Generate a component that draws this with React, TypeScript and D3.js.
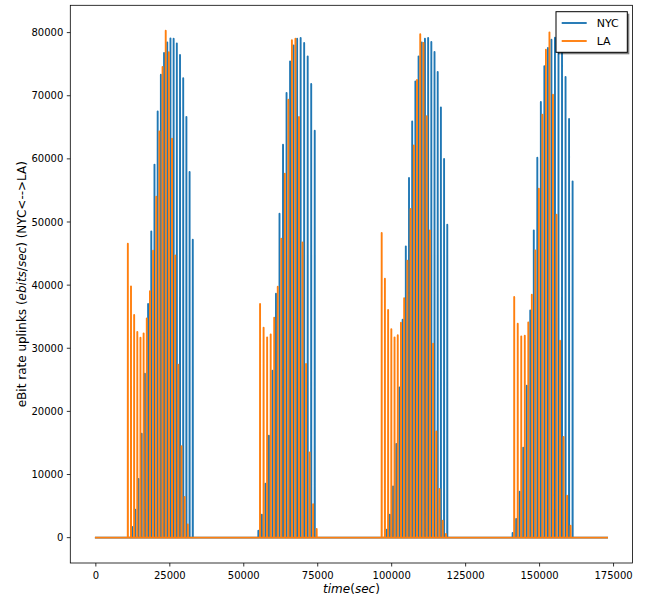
import React from 'react';
import * as d3 from 'd3';

// ---------- data ----------
const seriesNames = ['NYC', 'LA'];
const seriesColors = ['#1f77b4', '#ff7f0e'];
const xTicks = [0, 25000, 50000, 75000, 100000, 125000, 150000, 175000];
const yTicks = [0, 10000, 20000, 30000, 40000, 50000, 60000, 70000, 80000];
const timeEnd = 172800;

// NYC bursts: start time (s), sample spacing (s), spike values
const nycStarts = [12264, 54933, 98311, 140879];
const nycSteps = [1079, 1191, 1078, 1193];
const nycValues = [
  [1690, 4430, 9300, 16470, 25980, 37020, 48520, 59090, 67530, 73340, 76780, 78460, 79090, 79040, 78300, 76460, 72760, 66640, 57930, 47200],
  [1110, 3640, 8550, 16160, 26450, 38650, 51320, 62250, 70440, 75450, 77980, 79040, 79150, 78360, 76240, 71870, 64470],
  [1270, 3640, 8130, 14840, 23810, 34530, 46140, 56970, 65940, 72280, 76240, 78460, 79040, 79150, 78520, 76930, 73770, 68160, 59990, 49580],
  [740, 2960, 7290, 14260, 24080, 36000, 48680, 60190, 69010, 74660, 77570, 78880, 79200, 78600, 77300, 72970, 66320, 56440],
];

// LA bursts
const laStarts = [10811, 55507, 96622, 141420];
const laSteps = [1067, 1196, 1086, 1191];
const laValues = [
  [46570, 39810, 35270, 32580, 31680, 32360, 34740, 39020, 45460, 54010, 64360, 74560, 80310, 76880, 63200, 44720, 27400, 14470, 6450, 2110],
  [37020, 33260, 31730, 32200, 34850, 39760, 47360, 57660, 69380, 78780, 79040, 66640, 46780, 27510, 13510, 5280, 1380],
  [48260, 41030, 36060, 33000, 31730, 32050, 34060, 37910, 43880, 52070, 62140, 72500, 79730, 78360, 66740, 48680, 30730, 16840, 7710, 2690, 590],
  [38130, 33900, 31890, 32000, 34100, 38490, 45510, 55280, 67000, 77300, 80040, 70170, 51160, 31200, 15950, 6650, 1900],
];

// ---------- helpers ----------
type Pt = [number, number];
function buildSeries(starts: number[], steps: number[], values: number[][]): Pt[] {
  const pts: Pt[] = [[0, 0]];
  const half = 25;
  values.forEach((vals, i) => {
    vals.forEach((v, j) => {
      const t = starts[i] + j * steps[i];
      pts.push([t - half, 0], [t, v], [t + half, 0]);
    });
  });
  pts.push([timeEnd, 0]);
  return pts;
}

const W = 647;
const H = 600;
const axL = 70.3, axR = 632.6, axT = 5.3, axB = 563;
const lw = 1.9;

export default function App() {
  const nyc = buildSeries(nycStarts, nycSteps, nycValues);
  const la = buildSeries(laStarts, laSteps, laValues);
  const maxV = d3.max([...nyc, ...la], (d) => d[1]) as number;

  const x = d3.scaleLinear().domain([-0.05 * timeEnd, 1.05 * timeEnd]).range([axL, axR]);
  const y = d3.scaleLinear().domain([-0.05 * maxV, 1.05 * maxV]).range([axB, axT]);
  const line = d3.line<Pt>().x((d) => x(d[0])).y((d) => y(d[1]));

  const font = 'DejaVu Sans';
  const legX = 556, legY = 11.7, legW = 71.3, legH = 40.6;

  return (
    <svg width={W} height={H} style={{ position: 'absolute', left: 0, top: 0, background: '#fff' }} fontFamily={font}>
      <rect x={0} y={0} width={W} height={H} fill="#fff" />
      <defs>
        <clipPath id="plotClip">
          <rect x={axL} y={axT} width={axR - axL} height={axB - axT} />
        </clipPath>
      </defs>
      <g clipPath="url(#plotClip)">
        {[nyc, la].map((s, i) => (
          <path key={i} d={line(s) as string} fill="none" stroke={seriesColors[i]} strokeWidth={lw}
            strokeLinejoin="round" strokeLinecap="square" />
        ))}
      </g>
      {/* spines */}
      <rect x={axL} y={axT} width={axR - axL} height={axB - axT} fill="none" stroke="#000" strokeWidth={0.8} />
      {/* x ticks */}
      {xTicks.map((t) => (
        <g key={'x' + t}>
          <line x1={x(t)} x2={x(t)} y1={axB} y2={axB + 3.5} stroke="#000" strokeWidth={0.8} />
          <text x={x(t)} y={578.5} fontSize={10} textAnchor="middle" fill="#000">{String(t)}</text>
        </g>
      ))}
      {/* y ticks */}
      {yTicks.map((t) => (
        <g key={'y' + t}>
          <line x1={axL - 3.5} x2={axL} y1={y(t)} y2={y(t)} stroke="#000" strokeWidth={0.8} />
          <text x={axL - 7} y={y(t) + 3.6} fontSize={10} textAnchor="end" fill="#000">{String(t)}</text>
        </g>
      ))}
      {/* axis labels */}
      <text x={(axL + axR) / 2} y={593} fontSize={12} textAnchor="middle" fill="#000">
        <tspan fontStyle="italic">time</tspan>(<tspan fontStyle="italic">sec</tspan>)
      </text>
      <text transform={`translate(26,${(axT + axB) / 2}) rotate(-90)`} fontSize={12} textAnchor="middle" fill="#000">
        eBit rate uplinks (<tspan fontStyle="italic">ebits</tspan>/<tspan fontStyle="italic">sec</tspan>) (NYC&lt;--&gt;LA)
      </text>
      {/* legend */}
      <rect x={legX + 2} y={legY + 2} width={legW} height={legH} fill="#000" fillOpacity={0.5} />
      <rect x={legX} y={legY} width={legW} height={legH} fill="#fff" stroke="#000" strokeWidth={1} />
      {seriesNames.map((n, i) => (
        <g key={n}>
          <line x1={561.7} x2={586.7} y1={23 + i * 18} y2={23 + i * 18} stroke={seriesColors[i]} strokeWidth={lw} />
          <text x={596.7} y={23 + i * 18 + 4} fontSize={11} fill="#000">{n}</text>
        </g>
      ))}
    </svg>
  );
}
